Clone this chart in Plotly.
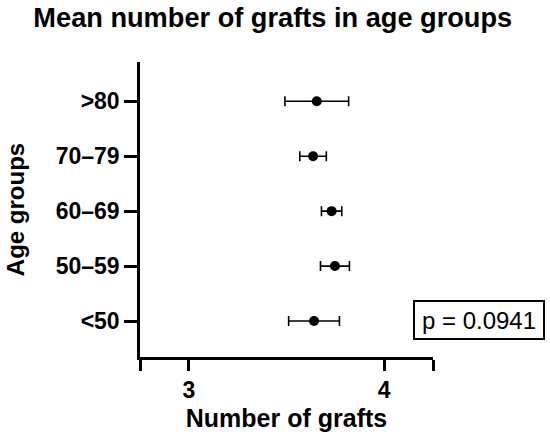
import plotly.graph_objects as go

# Age groups (bottom to top) with mean number of grafts and error
groups = ["<50", "50–59", "60–69", "70–79", ">80"]
means = [3.641, 3.748, 3.731, 3.636, 3.655]
errors = [0.130, 0.074, 0.052, 0.068, 0.163]
p_text = "p = 0.0941"

FONT = "Arial, Liberation Sans, sans-serif"

fig = go.Figure(go.Scatter(
    x=means,
    y=groups,
    mode="markers",
    marker=dict(color="black", size=10),
    error_x=dict(type="data", array=errors, color="black", thickness=1.6, width=5),
    showlegend=False,
))

fig.update_layout(
    width=550, height=440,
    margin=dict(l=140, r=117, t=62, b=83),
    plot_bgcolor="white", paper_bgcolor="white",
    font=dict(family=FONT, color="black"),
    title=dict(text="Mean number of grafts in age groups", x=0.496, xanchor="center",
               y=0.982, yanchor="top", font=dict(size=27.2, weight="bold")),
)

fig.update_xaxes(
    range=[2.75, 4.25],
    tickvals=[2.75, 3, 4, 4.25], ticktext=["", "3", "4", ""],
    showline=True, linecolor="black", linewidth=2.5,
    ticks="outside", ticklen=11, tickwidth=2.5, tickcolor="black",
    showgrid=False, zeroline=False, automargin=False,
    tickfont=dict(size=23, weight="bold"),
    title=dict(text="Number of grafts", font=dict(size=25, weight="bold"), standoff=8),
)

fig.update_yaxes(
    type="category", categoryorder="array", categoryarray=groups,
    range=[-0.655, 4.715],
    showline=True, linecolor="black", linewidth=2.5,
    ticks="outside", ticklen=13, tickwidth=2.5, tickcolor="black",
    showgrid=False, zeroline=False, automargin=False,
    tickfont=dict(size=23, weight="bold"),
    title=dict(text="Age groups", font=dict(size=24, weight="bold"), standoff=25),
)

fig.add_annotation(
    text=p_text, xref="paper", yref="paper", x=1.157, y=0.125,
    xanchor="center", yanchor="middle", showarrow=False,
    font=dict(size=24, color="black"),
    bordercolor="black", borderwidth=2, borderpad=3,
    width=122, height=30, bgcolor="white",
)

# drop the default page margin so the figure sits at the window corner
fig.write_html("out.html", config={"displayModeBar": False},
               post_script="document.body.style.margin='0';")
